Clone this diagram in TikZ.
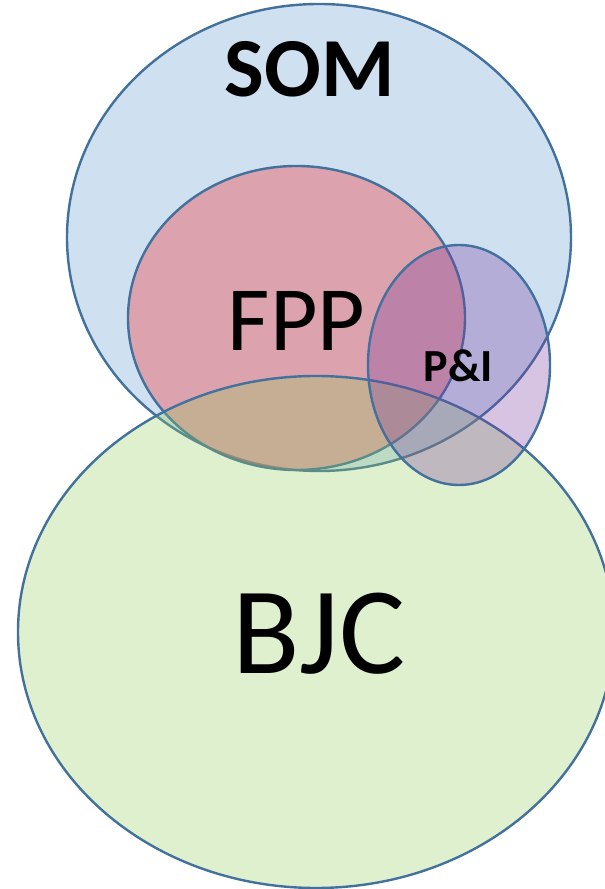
\documentclass[tikz,border=0pt]{standalone}
\usepackage{fontspec}
\setmainfont{Carlito}
\definecolor{somfill}{RGB}{207,224,241}
\definecolor{fppfill}{RGB}{233,102,107}
\definecolor{bjcfill}{RGB}{148,205,92}
\definecolor{pifill}{RGB}{118,58,158}
\definecolor{edge}{RGB}{65,113,156}
\tikzset{
  setshape/.style={draw=edge, line width=2.4pt},
  label/.style={inner sep=0pt, anchor=base, text=black}
}
\begin{document}
\begin{tikzpicture}[x=1pt,y=1pt]
\useasboundingbox (0,0) rectangle (605,889);
\clip (0,0) rectangle (605,889);
% SOM
\path[setshape, fill=somfill] (319,651.5) ellipse [x radius=252, y radius=233.5];
% FPP
\path[setshape, fill=fppfill, fill opacity=0.5] (296.5,571) ellipse [x radius=168.5, y radius=152];
% BJC
\path[setshape, fill=bjcfill, fill opacity=0.3] (316,257) ellipse [x radius=298, y radius=256];
% P&I
\path[setshape, fill=pifill, fill opacity=0.3] (459,524) ellipse [x radius=91, y radius=120];
% labels
\node[label, font=\fontsize{84}{84}\selectfont\bfseries] (som) at (309.5,792) {SOM};
\node[label, font=\fontsize{92}{92}\selectfont] (fpp) at (296.5,538) {FPP};
\node[label, font=\fontsize{46}{46}\selectfont\bfseries] (pi) at (458.5,507) {P\&I};
\node[label, font=\fontsize{124}{124}\selectfont] (bjc) at (319,215) {BJC};
\end{tikzpicture}
\end{document}
